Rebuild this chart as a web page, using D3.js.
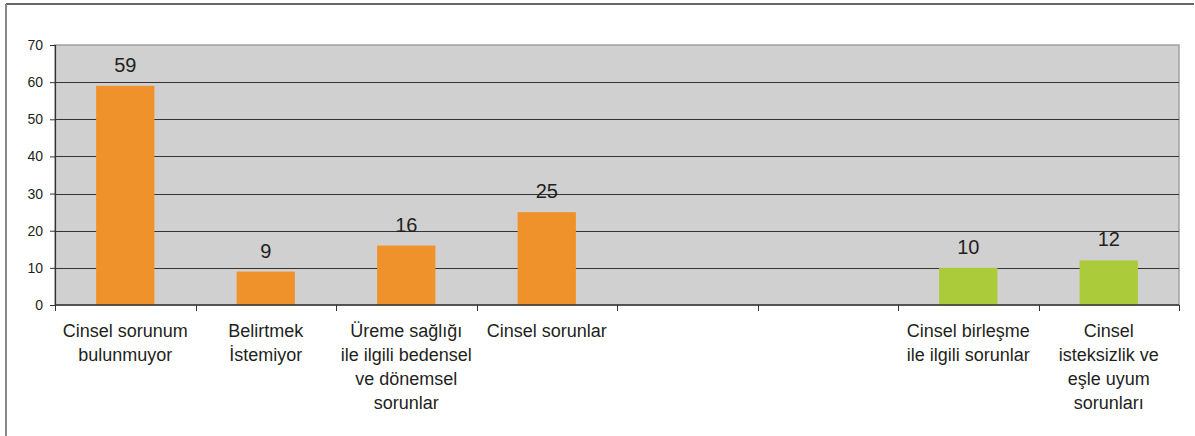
<!DOCTYPE html>
<html>
<head>
<meta charset="utf-8">
<script src="https://cdn.jsdelivr.net/npm/d3@7"></script>
<style>
  html, body { margin: 0; padding: 0; background: #fff; }
  svg { display: block; font-family: "Liberation Sans", Arial, sans-serif; }
</style>
</head>
<body>
<svg id="chart" width="1195" height="436"></svg>
<script>
// Category labels (line-broken as they are set under the axis)
const categories = [
  ["Cinsel sorunum", "bulunmuyor"],
  ["Belirtmek", "İstemiyor"],
  ["Üreme sağlığı", "ile ilgili bedensel", "ve dönemsel", "sorunlar"],
  ["Cinsel sorunlar"],
  [""],
  [""],
  ["Cinsel birleşme", "ile ilgili sorunlar"],
  ["Cinsel", "isteksizlik ve", "eşle uyum", "sorunları"]
];
// Two series share the category axis; empty slots are null
const orangeValues = [59, 9, 16, 25, null, null, null, null];
const greenValues  = [null, null, null, null, null, null, 10, 12];
const yTicks = [0, 10, 20, 30, 40, 50, 60, 70];

const svg = d3.select("#chart");
const W = 1195, H = 436;
const plot = { left: 55, top: 45, right: 1179, bottom: 305 };

// outer frame
svg.append("line").attr("x1", 6).attr("y1", 4).attr("x2", 1194).attr("y2", 4)
  .attr("stroke", "#333").attr("stroke-width", 1.5);
svg.append("line").attr("x1", 6).attr("y1", 4).attr("x2", 6).attr("y2", H)
  .attr("stroke", "#888").attr("stroke-width", 2);

const idx = d3.range(categories.length);
const x = d3.scaleBand().domain(idx).range([plot.left, plot.right]).paddingInner(0).paddingOuter(0);
const y = d3.scaleLinear().domain([0, 70]).range([plot.bottom, plot.top]);

// plot background
svg.append("rect")
  .attr("x", plot.left).attr("y", plot.top)
  .attr("width", plot.right - plot.left).attr("height", plot.bottom - plot.top)
  .attr("fill", "#d0d0d0").attr("stroke", "#a0a0a0").attr("stroke-width", 1.5);

// gridlines
svg.append("g").selectAll("line").data(yTicks.filter(t => t > 0 && t < 70)).join("line")
  .attr("x1", plot.left).attr("x2", plot.right)
  .attr("y1", d => Math.round(y(d)) + 0.5).attr("y2", d => Math.round(y(d)) + 0.5)
  .attr("stroke", "#333").attr("stroke-width", 1.2);

// bars
const barW = x.bandwidth() * 0.415;
function drawSeries(values, color) {
  const data = values.map((v, i) => ({ i, v })).filter(d => d.v !== null);
  svg.append("g").selectAll("rect").data(data).join("rect")
    .attr("x", d => x(d.i) + (x.bandwidth() - barW) / 2)
    .attr("y", d => y(d.v))
    .attr("width", barW)
    .attr("height", d => y(0) - y(d.v))
    .attr("fill", color);
  svg.append("g").selectAll("text").data(data).join("text")
    .attr("x", d => x(d.i) + x.bandwidth() / 2)
    .attr("y", d => y(d.v) - 14)
    .attr("text-anchor", "middle")
    .attr("font-size", 20)
    .attr("fill", "#231f20")
    .text(d => d.v);
}
drawSeries(orangeValues, "#f0922b");
drawSeries(greenValues, "#accb3a");

// y axis
const yAxis = svg.append("g").attr("transform", `translate(${plot.left},0)`)
  .call(d3.axisLeft(y).tickValues(yTicks).tickSize(5).tickPadding(7));
yAxis.select(".domain").attr("stroke", "#333").attr("stroke-width", 1.2);
yAxis.selectAll(".tick line").attr("stroke", "#333");
yAxis.selectAll(".tick text").attr("font-size", 14).attr("fill", "#231f20")
  .attr("font-family", "Liberation Sans, Arial, sans-serif");

// x axis baseline with ticks at category boundaries
const bounds = idx.map(i => x(i)).concat([plot.right]);
svg.append("line").attr("x1", plot.left).attr("x2", plot.right)
  .attr("y1", plot.bottom).attr("y2", plot.bottom)
  .attr("stroke", "#333").attr("stroke-width", 1.5);
svg.append("g").selectAll("line").data(bounds).join("line")
  .attr("x1", d => Math.round(d) + 0.5).attr("x2", d => Math.round(d) + 0.5)
  .attr("y1", plot.bottom).attr("y2", plot.bottom + 6)
  .attr("stroke", "#333").attr("stroke-width", 1);

// category labels
const labelG = svg.append("g");
categories.forEach((lines, i) => {
  const t = labelG.append("text")
    .attr("x", x(i) + x.bandwidth() / 2)
    .attr("y", 337)
    .attr("text-anchor", "middle")
    .attr("font-size", 18)
    .attr("fill", "#231f20");
  lines.forEach((ln, k) => {
    t.append("tspan").attr("x", x(i) + x.bandwidth() / 2)
      .attr("dy", k === 0 ? 0 : 24).text(ln);
  });
});
</script>
</body>
</html>
